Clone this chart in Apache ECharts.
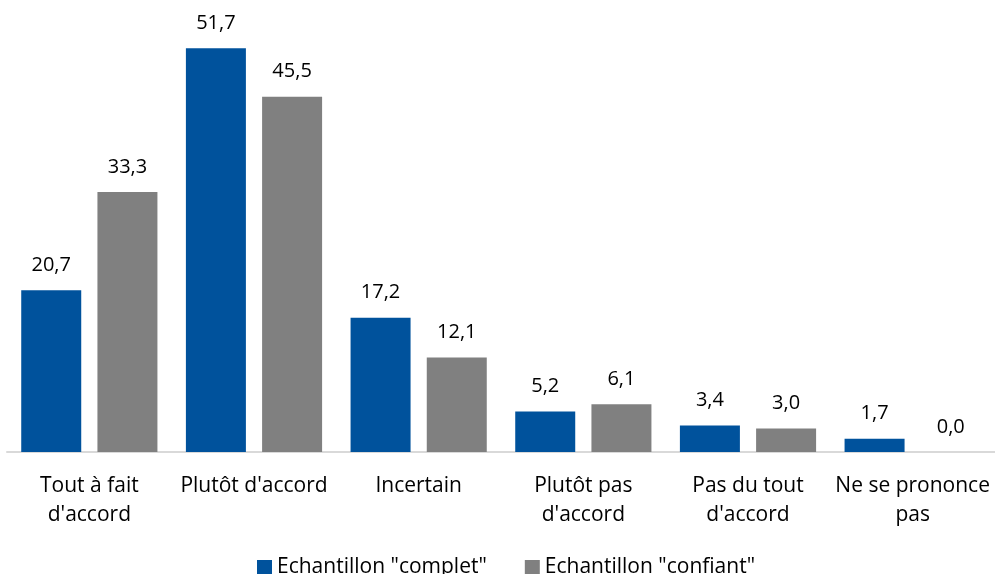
<!DOCTYPE html>
<html>
<head>
<meta charset="utf-8">
<script src="https://cdn.jsdelivr.net/npm/echarts@6/dist/echarts.min.js"></script>
<style>
  html, body { margin: 0; padding: 0; background: #fff; }
  #chart { width: 995px; height: 574px; }
</style>
</head>
<body>
<div id="chart"></div>
<script>
var categories = ["Tout à fait\nd'accord", "Plutôt d'accord", "Incertain", "Plutôt pas\nd'accord", "Pas du tout\nd'accord", "Ne se prononce\npas"];
var complet = [20.7, 51.7, 17.2, 5.2, 3.4, 1.7];
var confiant = [33.3, 45.5, 12.1, 6.1, 3.0, 0.0];

var font = '"Open Sans", sans-serif';
var chart = echarts.init(document.getElementById('chart'));

function fmt(p) {
  return p.value.toFixed(1).replace('.', ',');
}

var option = {
  animation: false,
  textStyle: { fontFamily: font },
  grid: { left: 7, right: 0, top: 10, bottom: 122 },
  legend: {
    bottom: -9,
    left: 252,
    icon: 'rect',
    itemWidth: 15,
    itemHeight: 15,
    itemGap: 38,
    textStyle: { fontFamily: font, fontSize: 21, color: '#000' },
    data: ['Echantillon "complet"', 'Echantillon "confiant"']
  },
  xAxis: {
    type: 'category',
    data: categories,
    axisLine: { lineStyle: { color: '#d9d9d9', width: 2 } },
    axisTick: { show: false },
    axisLabel: { fontFamily: font, fontSize: 21, color: '#000', lineHeight: 29, margin: 20, interval: 0 }
  },
  yAxis: {
    type: 'value',
    min: 0,
    max: 56.6,
    show: false
  },
  series: [
    {
      name: 'Echantillon "complet"',
      type: 'bar',
      data: complet,
      barWidth: 60,
      barGap: '27%',
      itemStyle: { color: '#00529c' },
      label: { show: true, position: 'top', distance: 15, formatter: fmt, fontFamily: font, fontSize: 20, color: '#000' }
    },
    {
      name: 'Echantillon "confiant"',
      type: 'bar',
      data: confiant,
      barWidth: 60,
      itemStyle: { color: '#808080' },
      label: { show: true, position: 'top', distance: 15, formatter: fmt, fontFamily: font, fontSize: 20, color: '#000' }
    }
  ]
};
chart.setOption(option);
</script>
</body>
</html>
